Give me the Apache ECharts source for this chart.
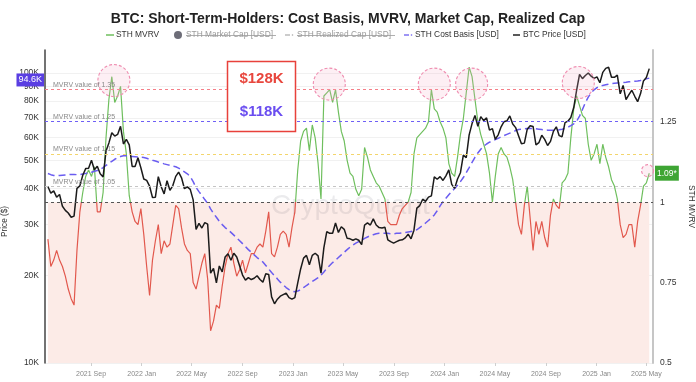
<!DOCTYPE html>
<html><head><meta charset="utf-8">
<script src="https://cdn.jsdelivr.net/npm/echarts@6/dist/echarts.min.js"></script>
<style>html,body{margin:0;padding:0;background:#fff}#c{width:696px;height:382px}</style>
</head><body><div id="c"></div>
<script>
// ---- data ----
const startDate = '2021-05-20';   // first weekly sample
const stepDays = 7;
// BTC price, thousands USD (weekly)
const btcPrice = [
 40.6,38.5,39.2,37.3,38.1,34.7,33.6,32.9,31.8,32.1,40.0,40.8,44.4,46.8,46.9,50.0,46.4,47.7,44.9,43.8,53.8,57.4,62.2,60.6,61.4,65.5,56.9,59.0,56.5,47.6,47.6,51.0,47.1,
 43.1,42.6,40.7,37.2,37.3,43.9,40.5,38.3,42.5,39.4,40.9,44.0,45.5,43.5,39.9,40.5,39.7,36.5,28.9,30.3,29.2,30.5,30.1,20.4,21.2,18.9,21.6,20.6,23.2,23.8,22.6,23.9,23.2,21.6,20.1,19.3,19.7,19.4,19.6,20.0,19.4,19.0,20.3,20.2,16.9,16.0,16.6,17.0,17.2,17.4,16.8,16.6,
 16.8,18.9,21.1,23.0,23.5,21.8,23.5,23.9,23.4,20.4,25.0,28.4,28.0,28.0,30.4,28.2,29.5,28.9,26.9,26.8,26.5,26.8,26.5,25.6,29.9,30.4,29.9,31.4,29.9,29.3,29.2,29.4,26.6,26.2,25.9,26.2,26.5,26.6,27.0,27.8,26.8,28.7,34.2,34.9,36.7,36.1,37.3,37.7,43.8,43.0,43.9,42.6,
 44.2,46.3,41.3,40.0,43.1,45.3,52.1,51.0,61.2,66.9,71.4,65.5,70.7,68.5,70.0,63.5,64.3,59.1,61.2,65.2,67.9,68.4,71.1,66.7,64.8,60.8,57.0,57.3,64.0,65.8,65.4,56.5,57.5,61.0,59.0,56.2,58.1,62.9,65.2,60.8,60.3,67.4,68.2,70.2,76.0,87.3,98.9,95.6,98.0,100.0,97.5,95.8,
 96.9,92.5,100.5,103.7,104.7,96.6,96.6,98.3,84.7,90.6,80.9,84.2,87.2,83.1,79.6,84.9,93.9,96.5,103.5
];
// STH cost basis, thousands USD (weekly)
const sthCostBasis = [
 45.0,44.6,44.3,44.2,44.3,44.4,44.5,44.6,44.7,44.7,
 44.6,44.6,44.8,45.0,45.3,45.5,45.8,46.1,46.5,47.2,
 48.0,48.8,49.6,50.4,51.0,51.5,51.8,51.8,51.6,51.5,
 51.4,51.3,51.2,51.1,50.8,50.4,50.0,49.7,49.3,49.0,
 48.6,48.3,48.0,47.7,47.5,47.0,46.3,45.6,44.9,43.9,
 42.2,40.3,39.0,37.8,36.6,35.5,34.0,32.8,31.8,30.8,
 30.0,29.3,28.8,28.2,27.6,27.0,26.4,25.8,25.2,24.6,
 24.1,23.6,23.1,22.7,22.3,21.7,21.1,20.5,20.0,19.5,
 19.0,18.6,18.2,17.9,17.7,17.6,17.7,17.9,18.2,18.5,
 18.8,19.1,19.4,19.7,20.1,20.6,21.2,21.7,22.2,22.6,
 23.1,23.6,24.1,24.6,25.1,25.5,25.9,26.2,26.5,26.9,
 27.2,27.5,27.7,27.9,28.0,28.0,28.0,28.0,27.9,27.9,
 28.0,28.0,28.1,28.2,28.3,28.4,28.5,28.8,29.3,29.8,
 30.4,31.0,31.6,32.4,33.5,34.8,36.0,37.0,38.0,39.0,
 40.0,41.0,42.2,43.6,45.3,47.2,49.2,51.2,53.0,54.6,
 55.9,56.9,57.7,58.3,58.9,59.5,60.2,60.8,61.4,62.0,
 62.6,63.3,63.8,64.0,64.2,64.3,64.4,64.4,64.2,64.0,
 63.8,63.6,63.5,63.4,63.4,63.5,63.7,64.0,64.4,65.0,
 65.8,66.8,68.2,71.0,74.8,79.0,82.5,85.5,87.5,89.0,
 89.9,90.6,91.1,91.5,91.8,92.1,92.3,92.5,92.7,92.9,
 93.2,93.4,93.6,93.8,94.2,94.8,95.4,96.0
];
// STH MVRV (weekly)
const sthMvrv = [
 0.885,0.80,0.82,0.85,0.82,0.80,0.77,0.73,0.70,0.68,
 0.85,0.97,1.03,1.08,1.10,1.08,1.11,0.97,0.97,1.03,
 1.20,1.32,1.39,1.31,1.33,1.36,1.22,1.15,1.02,0.97,
 0.94,0.93,0.98,0.90,0.80,0.71,0.82,0.88,0.93,0.84,
 0.88,0.86,0.87,0.93,0.99,0.98,0.92,0.87,0.85,0.84,
 0.75,0.73,0.77,0.81,0.84,0.76,0.60,0.63,0.68,0.67,
 0.74,0.80,0.84,0.86,0.81,0.77,0.79,0.82,0.78,0.81,
 0.84,0.84,0.86,0.87,0.86,0.91,0.97,0.84,0.83,0.86,
 0.90,0.91,0.90,0.86,0.92,0.97,1.10,1.19,1.22,1.23,
 1.16,1.24,1.20,1.12,1.01,1.33,1.34,1.35,1.31,1.35,
 1.28,1.22,1.19,1.13,1.09,1.08,1.04,1.02,1.04,1.17,
 1.14,1.10,1.08,1.06,1.05,1.03,1.01,0.94,0.93,0.93,
 0.93,0.96,0.98,0.99,1.00,1.03,1.15,1.20,1.21,1.22,
 1.23,1.25,1.35,1.29,1.28,1.25,1.23,1.20,1.12,1.09,
 1.08,1.14,1.21,1.26,1.34,1.42,1.39,1.32,1.25,1.21,
 1.18,1.15,1.09,1.00,1.08,1.15,1.17,1.15,1.14,1.11,
 1.07,1.00,0.93,0.90,0.99,1.05,0.95,0.85,0.94,0.90,
 0.94,0.89,0.86,0.96,1.01,0.99,0.98,1.06,1.07,1.09,
 1.20,1.29,1.33,1.30,1.27,1.26,1.18,1.13,1.15,1.18,
 1.12,1.18,1.14,1.11,1.07,1.05,1.01,0.93,0.89,0.90,
 0.93,0.93,0.86,0.94,0.99,1.05,1.06,1.09
];
const xTickDates = ['2021-09-01','2022-01-01','2022-05-01','2022-09-01','2023-01-01','2023-05-01','2023-09-01','2024-01-01','2024-05-01','2024-09-01','2025-01-01','2025-05-01'];
const priceTicksK = [10,20,30,40,50,60,70,80,90,100];
const mvrvLevels = [1.05,1.15,1.25,1.35];
const peakMarks = [['2021-10-26',1.378],['2023-03-29',1.367],['2023-12-07',1.367],['2024-03-06',1.367],['2024-11-18',1.372]];
const lastMark = ['2025-05-04',1.098];
const priceBadge = 94.6;   // K
const mvrvBadge = 1.09;
const calloutValues = ['$128K','$118K'];

// ---- helpers ----
const DAY = 86400000;
function utc(s){const p=s.split('-').map(Number);return Date.UTC(p[0],p[1]-1,p[2]);}
const t0 = utc(startDate);
const times = btcPrice.map((_,i)=>t0+i*stepDays*DAY);
const MON=['Jan','Feb','Mar','Apr','May','Jun','Jul','Aug','Sep','Oct','Nov','Dec'];
const xTicks = xTickDates.map(utc);
const priceTickLogs = priceTicksK.map(v=>Math.log10(v*1000));
const FONT='Liberation Sans, Arial, Helvetica, sans-serif';
const GREEN='#6fbf5e', RED='#e2584d', PURPLE='#6a5cf0';
const CLEAR='rgba(0,0,0,0)';

const chart = echarts.init(document.getElementById('c'), null, {renderer:'canvas'});
const levelColors = ['#c4c4c4','#f3d56c','#6f60f6','#f57f88'];

const legendY = 35;
const graphic = [
  {type:'line',shape:{x1:106,y1:legendY,x2:114,y2:legendY},style:{stroke:GREEN,lineWidth:1.5},z:100},
  {type:'text',x:116,y:legendY,style:{text:'STH MVRV',fill:'#333',fontSize:8.4,fontFamily:FONT,verticalAlign:'middle'},z:100},
  {type:'circle',shape:{cx:178,cy:legendY,r:4},style:{fill:'#6d6d78'},z:100},
  {type:'text',x:186,y:legendY,style:{text:'STH Market Cap [USD]',fill:'#9b9b9b',fontSize:8.4,fontFamily:FONT,verticalAlign:'middle'},z:100},
  {type:'line',shape:{x1:186,y1:legendY+0.5,x2:276,y2:legendY+0.5},style:{stroke:'#9b9b9b',lineWidth:0.8},z:100},
  {type:'line',shape:{x1:285,y1:legendY,x2:290,y2:legendY},style:{stroke:'#aaa',lineWidth:1.2},z:100},
  {type:'circle',shape:{cx:292.5,cy:legendY,r:0.8},style:{fill:'#aaa'},z:100},
  {type:'text',x:297,y:legendY,style:{text:'STH Realized Cap [USD]',fill:'#9b9b9b',fontSize:8.4,fontFamily:FONT,verticalAlign:'middle'},z:100},
  {type:'line',shape:{x1:297,y1:legendY+0.5,x2:395,y2:legendY+0.5},style:{stroke:'#9b9b9b',lineWidth:0.8},z:100},
  {type:'line',shape:{x1:404,y1:legendY,x2:409,y2:legendY},style:{stroke:PURPLE,lineWidth:1.3},z:100},
  {type:'circle',shape:{cx:411.5,cy:legendY,r:0.8},style:{fill:PURPLE},z:100},
  {type:'text',x:415,y:legendY,style:{text:'STH Cost Basis [USD]',fill:'#333',fontSize:8.4,fontFamily:FONT,verticalAlign:'middle'},z:100},
  {type:'line',shape:{x1:513,y1:legendY,x2:520,y2:legendY},style:{stroke:'#222',lineWidth:1.5},z:100},
  {type:'text',x:523,y:legendY,style:{text:'BTC Price [USD]',fill:'#333',fontSize:8.4,fontFamily:FONT,verticalAlign:'middle'},z:100},
  {type:'text',x:271,y:206,z:1.5,silent:true,style:{text:'CryptoQuant',fill:'rgba(70,70,90,0.11)',fontSize:28,fontFamily:FONT,verticalAlign:'middle'}},
  {type:'rect',shape:{x:227.5,y:61.5,width:68,height:70},style:{fill:'#fff',stroke:'#e8413b',lineWidth:1.5},z:100},
  {type:'text',x:261.5,y:78.5,z:101,style:{text:calloutValues[0],fill:'#e8463d',fontSize:15,fontWeight:'bold',fontFamily:FONT,align:'center',verticalAlign:'middle'}},
  {type:'text',x:261.5,y:111.5,z:101,style:{text:calloutValues[1],fill:'#6a4df0',fontSize:15,fontWeight:'bold',fontFamily:FONT,align:'center',verticalAlign:'middle'}}
];

const circleStyle = {color:'rgba(247,175,198,0.2)',borderColor:'#ef8db0',borderWidth:1.1,borderType:[3,2]};

const option = {
  animation:false,
  textStyle:{fontFamily:FONT},
  title:{text:'BTC: Short-Term-Holders: Cost Basis, MVRV, Market Cap, Realized Cap',left:'center',top:7,
    textStyle:{fontSize:14,fontWeight:'bold',color:'#222',fontFamily:FONT}},
  grid:{left:45,right:43,top:50,bottom:19,containLabel:false,outerBoundsMode:'none'},
  xAxis:{type:'value',min:utc('2021-05-13'),max:utc('2025-05-17'),
    axisLine:{show:false},
    axisTick:{show:true,customValues:xTicks,length:3,lineStyle:{color:'#cfcfcf'}},
    axisLabel:{customValues:xTicks,fontSize:7,color:'#888',margin:8,
      formatter:v=>{const d=new Date(v);return d.getUTCFullYear()+' '+MON[d.getUTCMonth()];}},
    splitLine:{show:false}},
  yAxis:[
    {type:'log',logBase:10,min:10000,max:120000,show:false},
    {type:'value',position:'right',min:0.5,max:1.473,interval:0.25,
      axisLine:{show:true,lineStyle:{color:'#c6c6c6',width:2}},axisTick:{show:false},
      axisLabel:{color:'#333',fontSize:8.5,margin:7,showMaxLabel:false,formatter:v=>String(+v.toFixed(2))},
      splitLine:{show:false},
      name:'STH MVRV',nameLocation:'middle',nameRotate:-90,nameGap:30,nameTextStyle:{color:'#333',fontSize:8.4}},
    {type:'value',position:'left',min:4,max:Math.log10(120000),
      axisLine:{show:true,lineStyle:{color:'#444',width:1.5}},
      axisTick:{show:false,customValues:priceTickLogs},
      axisLabel:{customValues:priceTickLogs,color:'#333',fontSize:8.5,margin:6,
        formatter:v=>Math.round(Math.pow(10,v)/1000)+'K'},
      splitLine:{show:true,lineStyle:{color:'#f1f1f1',width:1}},
      name:'Price ($)',nameLocation:'middle',nameRotate:90,nameGap:32,
      nameTextStyle:{color:'#333',fontSize:8.2,padding:[0,30,0,0]}}
  ],
  visualMap:[{type:'piecewise',show:false,seriesIndex:1,dimension:1,
    pieces:[{gte:0,lt:1,color:RED},{gte:1,lte:3,color:GREEN}]}],
  series:[
    {name:'levels',type:'line',yAxisIndex:1,data:[],z:1,silent:true,
      markArea:{silent:true,itemStyle:{color:'#fcebe7'},
        data:[[{coord:[times[0],0.5]},{coord:[times[times.length-1],1]}]]},
      markLine:{silent:true,symbol:['none','none'],
        label:{position:'insideStartTop',color:'#8a8a8a',fontSize:7,distance:[8,1]},
        data:[{yAxis:1,lineStyle:{color:'#555',type:[3,3],width:1},label:{show:false}}]
          .concat(mvrvLevels.map((v,i)=>({yAxis:v,lineStyle:{color:levelColors[i],type:[3,3],width:1},label:{formatter:'MVRV value of '+v}})))
          .concat([{yAxis:mvrvBadge,lineStyle:{color:CLEAR,width:1},label:{position:'end',formatter:mvrvBadge.toFixed(2)+'*',
            color:'#fff',backgroundColor:'#3ea534',padding:[3,2,3,2],fontSize:8.5,distance:2}}])},
      markPoint:{silent:true,symbol:'circle',label:{show:false},itemStyle:circleStyle,
        data:peakMarks.map(p=>({coord:[utc(p[0]),p[1]],symbolSize:32}))
          .concat([{coord:[utc(lastMark[0]),lastMark[1]],symbolSize:12}])}
    },
    {name:'STH MVRV',type:'line',yAxisIndex:1,showSymbol:false,symbol:'none',
      lineStyle:{width:1.2},data:sthMvrv.map((v,i)=>[times[i],v])},
    {name:'STH Cost Basis [USD]',type:'line',yAxisIndex:0,showSymbol:false,symbol:'none',
      lineStyle:{width:1.5,color:PURPLE,type:[7,4]},itemStyle:{color:PURPLE},
      data:sthCostBasis.map((v,i)=>[times[i],v*1000])},
    {name:'BTC Price [USD]',type:'line',yAxisIndex:0,showSymbol:false,symbol:'none',
      lineStyle:{width:1.5,color:'#1b1b1b'},itemStyle:{color:'#1b1b1b'},
      data:btcPrice.map((v,i)=>[times[i],v*1000]),
      markLine:{silent:true,symbol:['none','none'],lineStyle:{color:CLEAR,width:1},
        data:[{yAxis:priceBadge*1000}],
        label:{position:'start',formatter:priceBadge+'K',color:'#fff',backgroundColor:'#5a3fe2',
          padding:[2,2,2,2],fontSize:9,distance:1}}}
  ],
  graphic:graphic
};
chart.setOption(option);
</script></body></html>
